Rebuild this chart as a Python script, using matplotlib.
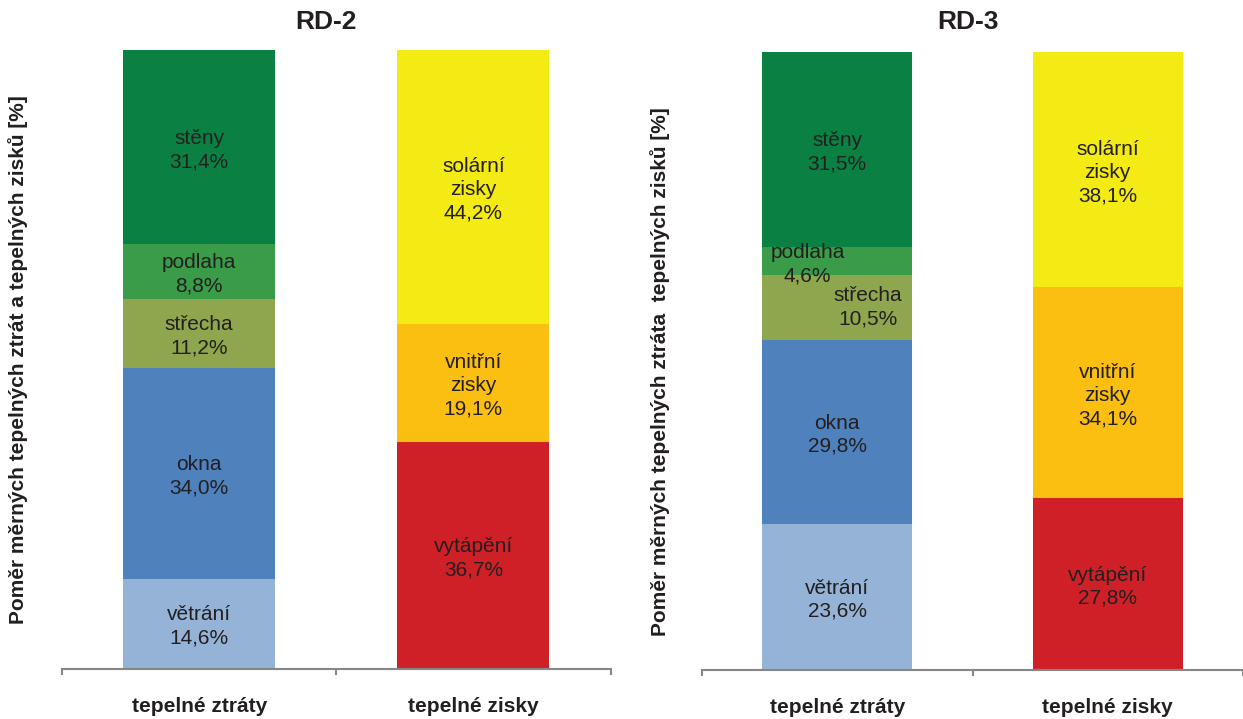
import matplotlib
matplotlib.use("Agg")
import matplotlib.pyplot as plt

plt.rcParams['font.family'] = ['Liberation Sans', 'DejaVu Sans']

categories = ["tepelné ztráty", "tepelné zisky"]

loss_labels = ["větrání", "okna", "střecha", "podlaha", "stěny"]
loss_colors = ["#95B3D7", "#4F81BD", "#8EA64D", "#3A9B48", "#0A8142"]
gain_labels = ["vytápění", "vnitřní\nzisky", "solární\nzisky"]
gain_colors = ["#CF2027", "#FBBF12", "#F4EA14"]

rd2_losses = [14.6, 34.0, 11.2, 8.8, 31.4]
rd2_gains = [36.7, 19.1, 44.2]
rd3_losses = [23.6, 29.8, 10.5, 4.6, 31.5]
rd3_gains = [27.8, 34.1, 38.1]

titles = ["RD-2", "RD-3"]
ylabels = ["Poměr měrných tepelných ztrát a tepelných zisků [%]",
           "Poměr měrných tepelných ztráta  tepelných zisků [%]"]

W, H = 1243, 719
fig = plt.figure(figsize=(W / 100, H / 100), dpi=100)

TXT = "#231F20"
AX = "#868686"
BW = 0.555
LS = 1.28
DY = -0.45


def fmt(v):
    return f"{v:.1f}%".replace(".", ",")


def draw(ax, losses, gains, xmax, offsets):
    bottom = 0.0
    for i, (v, c, lab) in enumerate(zip(losses, loss_colors, loss_labels)):
        ax.bar(0, v, BW, bottom=bottom, color=c, linewidth=0)
        dx, dy = offsets.get(i, (0, DY))
        ax.text(0 + dx, bottom + v / 2 + dy, f"{lab}\n{fmt(v)}", ha="center", va="center",
                fontsize=15, color=TXT, linespacing=LS)
        bottom += v
    bottom = 0.0
    for v, c, lab in zip(gains, gain_colors, gain_labels):
        ax.bar(1, v, BW, bottom=bottom, color=c, linewidth=0)
        ax.text(1, bottom + v / 2 + DY, f"{lab}\n{fmt(v)}", ha="center", va="center",
                fontsize=15, color=TXT, linespacing=LS)
        bottom += v
    ax.set_ylim(0, 100)
    ax.set_xlim(-0.5, xmax)
    for s in ["left", "right", "top"]:
        ax.spines[s].set_visible(False)
    ax.spines["bottom"].set_color(AX)
    ax.spines["bottom"].set_linewidth(1.5)
    ax.set_yticks([])
    ax.set_xticks([0, 1])
    ax.set_xticklabels(categories, fontsize=15, fontweight="bold", color=TXT)
    ax.tick_params(axis="x", which="major", length=0, pad=20)
    ax.set_xticks([-0.5, 0.5, 1.5], minor=True)
    ax.tick_params(axis="x", which="minor", length=4, width=1.5, color=AX, direction="out")


# left axes: x 62..610, y 50..669
ax1 = fig.add_axes([62 / W, (H - 669) / H, 548.5 / W, 619 / H])
draw(ax1, rd2_losses, rd2_gains, 1.5, {})

# right axes: x 702..1243, y 52..670
ax2 = fig.add_axes([702 / W, (H - 670) / H, 541 / W, 618 / H])
draw(ax2, rd3_losses, rd3_gains, -0.5 + 541 / 274,
     {3: (-30 / 274, -0.6), 2: (31 / 274, 0.0)})

fig.text(326 / W, 1 - 22 / H, titles[0], ha="center", va="center",
         fontsize=19, fontweight="bold", color=TXT)
fig.text(968 / W, 1 - 22 / H, titles[1], ha="center", va="center",
         fontsize=19, fontweight="bold", color=TXT)

fig.text(18 / W, 1 - 360 / H, ylabels[0], rotation=90, ha="center", va="center",
         fontsize=15, fontweight="bold", color=TXT)
fig.text(660 / W, 1 - 372 / H, ylabels[1], rotation=90, ha="center", va="center",
         fontsize=15, fontweight="bold", color=TXT)

fig.savefig("out.png", dpi=100)
